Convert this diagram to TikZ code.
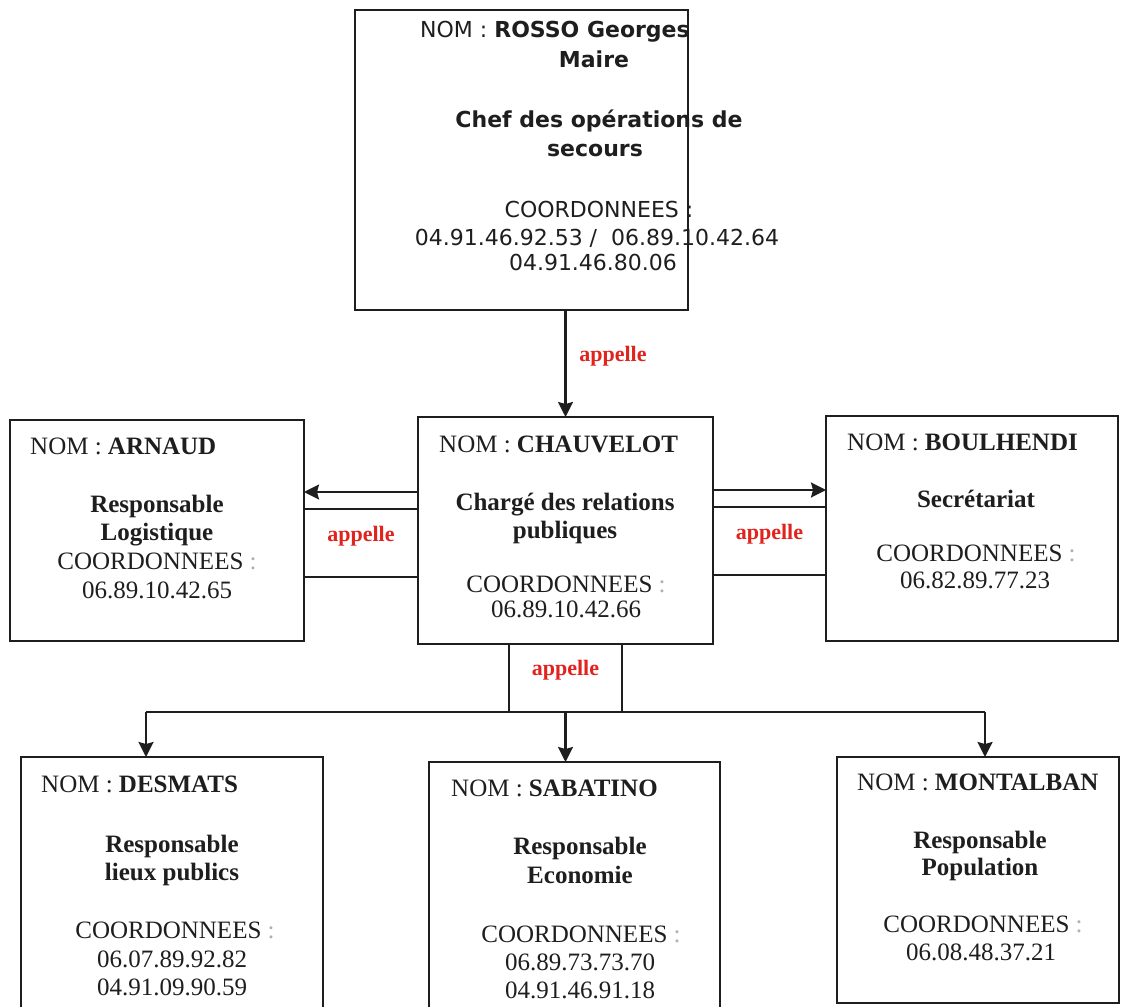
\documentclass[tikz,border=0pt]{standalone}
\usepackage{fontspec}
\setmainfont{Liberation Serif}
\newfontfamily\djv{DejaVu Sans}
\usetikzlibrary{arrows.meta}
\definecolor{appred}{RGB}{225,35,30}
\definecolor{colg}{RGB}{175,175,175}
\definecolor{ink}{RGB}{30,30,30}
\tikzset{
 box/.style={draw=ink, line width=2.2pt, anchor=north west, inner sep=0pt, outer sep=0pt},
 band/.style={draw=ink, line width=2.2pt, anchor=north west, inner sep=0pt, outer sep=0pt},
 lnk/.style={draw=ink, line width=2.2pt},
 arr/.style={draw=ink, line width=2.2pt, -{Stealth[length=15pt,width=15pt,inset=2pt]}},
 txt/.style={inner sep=0pt, anchor=base, text=ink, font=\fontsize{25}{29}\selectfont},
 nomtxt/.style={txt, anchor=base west},
 roletxt/.style={inner sep=0pt, anchor=base, text=ink, font=\fontsize{25}{29}\selectfont\bfseries},
 sanstxt/.style={inner sep=0pt, anchor=base, text=ink, font=\djv\fontsize{22}{26}\selectfont},
 app/.style={inner sep=0pt, anchor=base, text=appred, font=\fontsize{22}{26}\selectfont\bfseries},
}
\newcommand{\coordtxt}{COORDONNEES {\color{colg}:}}
\begin{document}
\begin{tikzpicture}[x=1pt,y=-1pt]
\useasboundingbox (0,0) rectangle (1121,1006);
\clip (0,0) rectangle (1121,1006);
\fill[white] (0,0) rectangle (1121,1006);

% boxes
\node[box, minimum width=333pt, minimum height=300pt] (maire) at (355,10) {};
\node[box, minimum width=294pt, minimum height=221pt] (arn) at (10,420) {};
\node[box, minimum width=295pt, minimum height=227pt] (chau) at (418,417) {};
\node[box, minimum width=292pt, minimum height=225pt] (boul) at (826,416) {};
\node[box, minimum width=302pt, minimum height=270pt] (desm) at (21,757) {};
\node[box, minimum width=291pt, minimum height=270pt] (saba) at (429,762) {};
\node[box, minimum width=282pt, minimum height=246pt] (mont) at (837,757) {};

% bands
\node[band, minimum width=114pt, minimum height=68pt] (lband) at (304,509) {};
\node[band, minimum width=113pt, minimum height=68pt] (rband) at (713,507) {};
\node[band, minimum width=113pt, minimum height=68pt] (bband) at (509,644) {};

% connectors
\draw[arr] (chau.north |- maire.south) -- (chau.north);
\coordinate (la) at (0,492);
\coordinate (ra) at (0,490);
\draw[arr] (chau.west |- la) -- (arn.east |- la);
\draw[arr] (chau.east |- ra) -- (boul.west |- ra);
\coordinate (busL) at (146,712);
\coordinate (busR) at (985,712);
\draw[lnk] (busL) -- (busR);
\draw[arr] (busL) -- (busL |- desm.north);
\draw[arr] (bband.south) -- (bband.south |- saba.north);
\draw[arr] (busR) -- (busR |- mont.north);

% appelle labels
\node[app] (ap1) at (613,361) {appelle};
\node[app] (ap2) at (lband.center |- 0,541) {appelle};
\node[app] (ap3) at (rband.center |- 0,539) {appelle};
\node[app] (ap4) at (bband.center |- 0,675) {appelle};

% top box text
\node[sanstxt, anchor=base west] (t1) at (420,38) {NOM : \textbf{ROSSO Georges}};
\node[sanstxt] (t2) at (594,68) {\textbf{Maire}};
\node[sanstxt] (t3) at (599,128) {\textbf{Chef des opérations de}};
\node[sanstxt] (t4) at (595,157) {\textbf{secours}};
\node[sanstxt] (t5) at (599,217) {COORDONNEES :};
\node[sanstxt] (t6) at (597,245) {04.91.46.92.53 /\ \ 06.89.10.42.64};
\node[sanstxt] (t7) at (593,270) {04.91.46.80.06};

% ARNAUD
\node[nomtxt] (a1) at (30,454) {NOM : \textbf{ARNAUD}};
\node[roletxt] (a2) at (157,512) {Responsable};
\node[roletxt] (a3) at (157,540) {Logistique};
\node[txt] (a4) at (157,569) {\coordtxt};
\node[txt] (a5) at (157,598) {06.89.10.42.65};

% CHAUVELOT
\node[nomtxt] (c1) at (439,452) {NOM : \textbf{CHAUVELOT}};
\node[roletxt] (c2) at (565,510) {Chargé des relations};
\node[roletxt] (c3) at (565,538) {publiques};
\node[txt] (c4) at (566,592) {\coordtxt};
\node[txt] (c5) at (566,617) {06.89.10.42.66};

% BOULHENDI
\node[nomtxt] (b1) at (847,450) {NOM : \textbf{BOULHENDI}};
\node[roletxt] (b2) at (976,507) {Secrétariat};
\node[txt] (b3) at (976,561) {\coordtxt};
\node[txt] (b4) at (975,588) {06.82.89.77.23};

% DESMATS
\node[nomtxt] (d1) at (41,792) {NOM : \textbf{DESMATS}};
\node[roletxt] (d2) at (172,852) {Responsable};
\node[roletxt] (d3) at (172,880) {lieux publics};
\node[txt] (d4) at (175,938) {\coordtxt};
\node[txt] (d5) at (172,967) {06.07.89.92.82};
\node[txt] (d6) at (172,995) {04.91.09.90.59};

% SABATINO
\node[nomtxt] (s1) at (451,796) {NOM : \textbf{SABATINO}};
\node[roletxt] (s2) at (580,854) {Responsable};
\node[roletxt] (s3) at (580,883) {Economie};
\node[txt] (s4) at (581,942) {\coordtxt};
\node[txt] (s5) at (580,970) {06.89.73.73.70};
\node[txt] (s6) at (580,998) {04.91.46.91.18};

% MONTALBAN
\node[nomtxt] (m1) at (857,790) {NOM : \textbf{MONTALBAN}};
\node[roletxt] (m2) at (980,848) {Responsable};
\node[roletxt] (m3) at (980,875) {Population};
\node[txt] (m4) at (983,932) {\coordtxt};
\node[txt] (m5) at (981,960) {06.08.48.37.21};
\end{tikzpicture}
\end{document}
